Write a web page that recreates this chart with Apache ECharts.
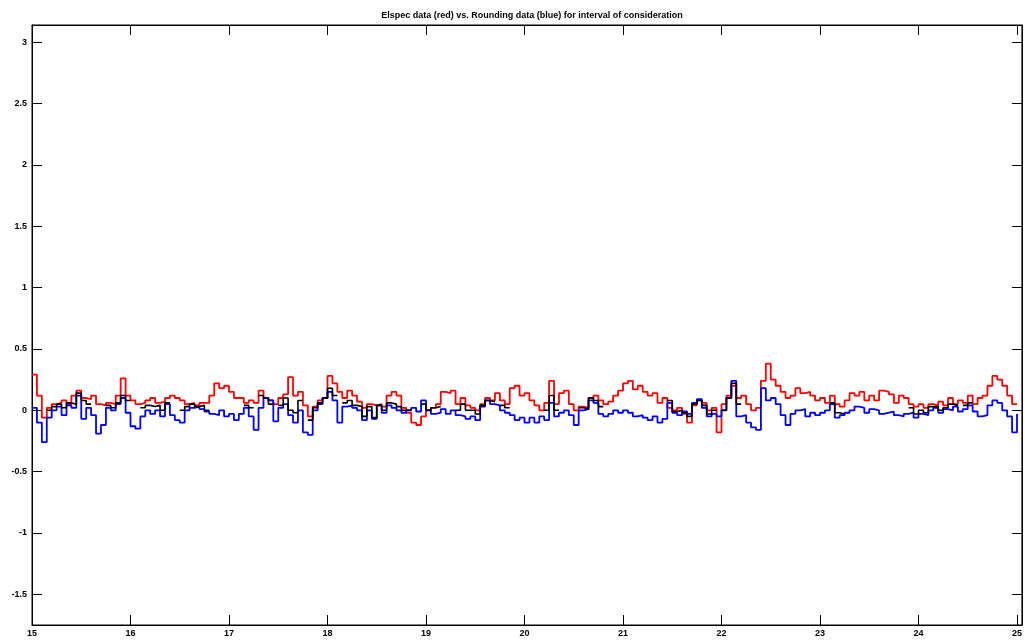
<!DOCTYPE html>
<html>
<head>
<meta charset="utf-8">
<script src="https://cdn.jsdelivr.net/npm/echarts@6/dist/echarts.min.js"></script>
<style>
html,body{margin:0;padding:0;background:#fff;}
#chart{width:1025px;height:642px;}
</style>
</head>
<body>
<div id="chart"></div>
<script>
const titleText = 'Elspec data (red) vs. Rounding data (blue) for interval of consideration';
const xStart = 15;
const xStep = 0.05;
const xTicks = [15,16,17,18,19,20,21,22,23,24,25];
const yTicks = [-1.5,-1,-0.5,0,0.5,1,1.5,2,2.5,3];

const redValues = [
0.29,0.12,-0.06,0.02,0.05,0.06,0.08,0.05,0.12,0.16,
0.10,0.09,0.12,0.05,0.04,0.06,0.05,0.12,0.26,0.12,
0.08,0.05,0.06,0.08,0.10,0.06,0.07,0.10,0.12,0.10,
0.08,0.05,0.06,0.04,0.06,0.06,0.12,0.22,0.18,0.20,
0.15,0.10,0.10,0.06,0.08,0.06,0.16,0.10,0.08,0.05,
0.10,0.13,0.27,0.12,0.15,0.04,-0.05,0.03,0.08,0.10,
0.28,0.22,0.15,0.10,0.16,0.12,0.07,0.02,0.05,0.04,
0.05,0.03,0.12,0.15,0.12,0.02,-0.02,-0.10,-0.12,-0.05,
0.00,0.02,0.05,0.15,0.14,0.16,0.05,0.10,0.04,0.02,
0.00,0.05,0.10,0.08,0.14,0.08,0.05,0.18,0.20,0.12,
0.14,0.08,0.04,0.00,0.06,0.24,0.05,0.14,0.16,0.05,
0.00,0.03,0.02,0.10,0.12,0.08,0.05,0.07,0.12,0.16,
0.22,0.24,0.17,0.20,0.15,0.12,0.14,0.06,0.10,0.02,
0.00,0.02,-0.03,-0.10,0.04,0.08,0.06,0.00,0.02,-0.18,
0.05,0.12,0.20,0.10,0.12,0.05,0.00,0.02,0.24,0.38,
0.25,0.20,0.15,0.10,0.12,0.18,0.14,0.15,0.12,0.08,
0.10,0.06,0.12,0.05,0.03,0.08,0.14,0.12,0.15,0.08,
0.12,0.08,0.16,0.15,0.13,0.06,0.12,0.10,0.05,0.03,
0.05,0.02,0.05,0.04,0.07,0.04,0.10,0.05,0.08,0.06,
0.12,0.05,0.10,0.12,0.20,0.28,0.25,0.20,0.12,0.05,
0.05
];

const blueValues = [
0.02,-0.10,-0.26,-0.06,0.00,0.03,-0.04,0.04,0.02,0.12,
-0.07,0.02,-0.04,-0.19,-0.12,0.02,0.00,0.05,0.10,-0.02,
-0.13,-0.15,-0.05,0.00,-0.03,0.00,-0.05,0.05,-0.04,-0.08,
-0.10,0.00,0.02,0.03,0.01,-0.01,-0.03,-0.04,0.00,-0.05,
-0.03,-0.08,-0.03,0.02,-0.05,-0.16,0.02,0.10,0.08,-0.09,
0.02,0.05,-0.04,-0.10,0.00,-0.18,-0.20,0.00,0.05,0.10,
0.15,0.08,-0.10,0.03,0.04,0.02,0.00,-0.08,0.00,-0.07,
0.04,-0.02,0.04,0.02,0.00,-0.02,0.00,0.02,-0.01,0.08,
0.00,-0.03,-0.02,0.01,-0.03,0.00,-0.04,-0.05,-0.07,-0.05,
-0.08,0.03,0.08,0.05,0.04,0.00,-0.02,-0.04,-0.08,-0.06,
-0.10,-0.06,-0.10,-0.05,-0.08,0.06,-0.05,-0.02,0.00,-0.04,
-0.12,0.00,0.01,0.08,0.06,-0.03,-0.05,-0.03,0.00,-0.02,
0.00,-0.02,-0.05,-0.04,-0.06,-0.08,-0.05,-0.10,-0.07,0.06,
-0.02,-0.04,-0.01,-0.03,0.06,0.09,0.02,-0.05,-0.03,-0.05,
0.00,0.10,0.24,-0.05,-0.04,-0.10,-0.14,-0.16,0.18,0.08,
0.10,0.05,-0.04,-0.12,-0.03,0.00,0.01,-0.05,-0.02,-0.04,
-0.02,0.00,0.05,-0.06,-0.04,-0.02,0.00,0.03,0.02,-0.02,
0.01,0.00,-0.03,-0.02,-0.01,-0.04,-0.05,-0.03,-0.02,-0.06,
-0.03,-0.04,0.00,0.02,-0.02,0.01,0.00,0.03,-0.01,0.01,
0.04,-0.01,-0.05,-0.04,0.04,0.08,0.06,0.00,-0.05,-0.18,
-0.03
];

const blackValues = [
null,null,null,0.00,0.03,0.05,0.02,0.06,0.05,0.14,
0.08,0.05,null,null,null,0.04,0.02,0.06,0.12,0.08,
null,null,0.02,0.04,0.03,0.04,0.00,0.06,null,null,
0.00,0.03,0.05,0.03,0.04,0.00,null,null,null,null,
null,null,null,0.04,0.02,null,0.12,0.10,0.05,null,
0.04,0.10,0.00,-0.02,0.08,null,-0.08,0.02,0.06,0.10,
0.18,0.12,null,0.06,0.08,0.04,0.03,-0.05,0.03,-0.06,
0.04,0.00,0.06,0.05,0.03,0.00,0.00,null,null,0.05,
0.00,0.02,0.03,null,null,null,0.00,0.05,0.00,0.00,
-0.03,0.04,0.08,0.07,null,0.04,0.02,null,null,null,
null,null,null,null,0.00,0.12,0.00,null,null,null,
null,0.02,0.01,0.10,0.08,0.03,null,null,null,null,
null,null,null,null,null,null,null,null,null,0.08,
-0.01,0.00,-0.02,-0.05,0.05,0.08,0.04,-0.03,0.00,null,
0.00,0.10,0.22,0.05,null,null,null,null,null,null,
null,null,null,null,null,null,null,null,null,null,
null,null,0.06,-0.02,-0.03,null,null,null,null,null,
null,null,null,null,null,null,null,null,0.02,-0.03,
0.00,-0.02,0.03,0.03,0.00,0.02,0.05,0.04,null,0.04,
0.06,null,null,null,null,null,null,null,null,null,
0.00
];

function toPairs(vals){
  return vals.map(function(v,i){ return [+(xStart + i*xStep).toFixed(3), v]; });
}

const font = 'Liberation Sans, Arial, sans-serif';
const chart = echarts.init(document.getElementById('chart'), null, {renderer:'canvas'});
const axisLineStyle = {color:'#000', width:1};
function fmt(v){ return String(v); }

chart.setOption({
  animation:false,
  backgroundColor:'#fff',
  title:{
    text:titleText, left:527, top:6, textAlign:'center',
    textStyle:{fontFamily:font, fontSize:9, fontWeight:'bold', color:'#000'}
  },
  grid:{left:32, right:2, top:25, bottom:17, show:true, borderColor:'#000', borderWidth:1, backgroundColor:'#fff'},
  xAxis:[{
    type:'value', min:15, max:25.05, position:'bottom',
    axisLine:{show:true, onZero:false, lineStyle:axisLineStyle},
    axisTick:{show:true, inside:true, length:10, lineStyle:axisLineStyle, customValues:xTicks},
    axisLabel:{show:true, customValues:xTicks, formatter:fmt, margin:4, fontFamily:font, fontSize:9, fontWeight:'bold', color:'#000'},
    splitLine:{show:false}
  },{
    type:'value', min:15, max:25.05, position:'top',
    axisLine:{show:true, onZero:false, lineStyle:axisLineStyle},
    axisTick:{show:true, inside:true, length:10, lineStyle:axisLineStyle, customValues:xTicks},
    axisLabel:{show:false},
    splitLine:{show:false}
  }],
  yAxis:[{
    type:'value', min:-1.75, max:3.14, position:'left',
    axisLine:{show:true, onZero:false, lineStyle:axisLineStyle},
    axisTick:{show:true, inside:true, length:10, lineStyle:axisLineStyle, customValues:yTicks},
    axisLabel:{show:true, customValues:yTicks, formatter:fmt, margin:5, fontFamily:font, fontSize:9, fontWeight:'bold', color:'#000'},
    splitLine:{show:false}
  },{
    type:'value', min:-1.75, max:3.14, position:'right',
    axisLine:{show:true, onZero:false, lineStyle:axisLineStyle},
    axisTick:{show:true, inside:true, length:10, lineStyle:axisLineStyle, customValues:yTicks},
    axisLabel:{show:false},
    splitLine:{show:false}
  }],
  series:[
    {type:'line', name:'red', data:toPairs(redValues), xAxisIndex:0, yAxisIndex:0, step:'end', showSymbol:false, symbol:'none',
     lineStyle:{color:'#ff0000', width:1.8}, itemStyle:{color:'#ff0000'}, z:2},
    {type:'line', name:'blue', data:toPairs(blueValues), xAxisIndex:0, yAxisIndex:0, step:'end', showSymbol:false, symbol:'none',
     lineStyle:{color:'#0000ff', width:1.8}, itemStyle:{color:'#0000ff'}, z:3},
    {type:'line', name:'black', data:toPairs(blackValues), xAxisIndex:0, yAxisIndex:0, step:'end', showSymbol:false, symbol:'none', connectNulls:false,
     lineStyle:{color:'#000000', width:1.6}, itemStyle:{color:'#000'}, z:4}
  ]
});
</script>
</body>
</html>
